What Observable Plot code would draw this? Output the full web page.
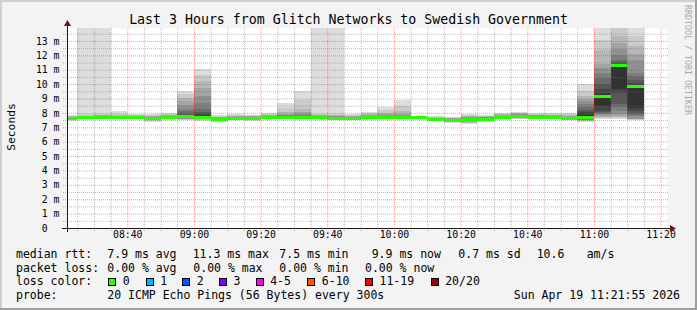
<!DOCTYPE html>
<html><head><meta charset="utf-8">
<script src="https://cdn.jsdelivr.net/npm/d3@7"></script>
<script src="https://cdn.jsdelivr.net/npm/@observablehq/plot@0.6"></script>
<style>
html,body{margin:0;padding:0;background:#f3f3f3;}
svg text{white-space:pre;}
</style></head><body><div id="chart"></div>
<script>
const title = "Last 3 Hours from Glitch Networks to Swedish Government";
const yAxisLabel = "Seconds";
const credit = "RRDTOOL / TOBI OETIKER";
const windowStart = "08:21:55", windowEnd = "11:21:55";

const binStarts = ["08:20","08:25","08:30","08:35","08:40","08:45","08:50","08:55","09:00","09:05","09:10","09:15","09:20","09:25","09:30","09:35","09:40","09:45","09:50","09:55","10:00","10:05","10:10","10:15","10:20","10:25","10:30","10:35","10:40","10:45","10:50","10:55","11:00","11:05","11:10"];
const medianRtt = [7.66,7.68,7.73,7.7,7.7,7.66,7.73,7.76,7.73,7.57,7.66,7.66,7.73,7.73,7.7,7.7,7.66,7.66,7.7,7.7,7.7,7.7,7.57,7.48,7.57,7.6,7.7,7.8,7.73,7.7,7.63,7.73,9.19,11.32,9.86];
const lossPerBin = [0,0,0,0,0,0,0,0,0,0,0,0,0,0,0,0,0,0,0,0,0,0,0,0,0,0,0,0,0,0,0,0,0,0,0];
// 20 sorted ping RTTs (ms) per bin
const pings = [
 [7.45,7.5,7.55,7.58,7.6,7.61,7.62,7.63,7.64,7.65,7.67,7.68,7.69,7.7,7.71,7.72,7.74,7.76,7.8,7.85],
 [7.5,7.55,7.58,7.6,7.61,7.62,7.63,7.64,7.65,7.66,7.67,7.68,7.69,7.7,7.71,7.72,7.74,7.78,7.9,25],
 [7.55,7.58,7.6,7.62,7.64,7.66,7.68,7.7,7.71,7.72,7.74,7.75,7.76,7.77,7.78,7.8,7.82,7.85,7.95,25],
 [7.55,7.58,7.6,7.62,7.64,7.66,7.67,7.68,7.69,7.7,7.71,7.72,7.73,7.74,7.76,7.78,7.8,7.85,7.95,8.1],
 [7.55,7.58,7.6,7.62,7.63,7.65,7.66,7.67,7.68,7.69,7.71,7.72,7.73,7.74,7.75,7.77,7.79,7.82,7.86,7.9],
 [7.38,7.45,7.5,7.55,7.58,7.6,7.62,7.63,7.64,7.65,7.67,7.68,7.69,7.7,7.72,7.74,7.76,7.8,7.85,7.9],
 [7.5,7.55,7.6,7.63,7.65,7.67,7.68,7.69,7.7,7.72,7.74,7.75,7.76,7.77,7.78,7.8,7.83,7.87,7.92,7.96],
 [7.5,7.52,7.55,7.58,7.6,7.62,7.65,7.68,7.7,7.72,7.78,7.85,7.95,8.1,8.3,8.55,8.8,9.05,9.3,9.53],
 [7.45,7.5,7.54,7.57,7.6,7.62,7.64,7.66,7.68,7.7,7.8,7.9,8.05,8.3,8.7,9.2,9.7,10.2,10.6,11.04],
 [7.34,7.4,7.44,7.47,7.5,7.52,7.53,7.54,7.55,7.56,7.58,7.6,7.61,7.62,7.64,7.66,7.7,7.74,7.8,7.85],
 [7.53,7.56,7.58,7.6,7.61,7.62,7.63,7.64,7.65,7.66,7.67,7.68,7.69,7.7,7.72,7.74,7.77,7.81,7.86,7.92],
 [7.45,7.5,7.54,7.57,7.59,7.61,7.62,7.63,7.64,7.65,7.67,7.68,7.69,7.7,7.71,7.73,7.75,7.78,7.82,7.85],
 [7.55,7.58,7.61,7.64,7.66,7.68,7.69,7.7,7.71,7.72,7.74,7.75,7.76,7.77,7.79,7.81,7.84,7.88,7.92,7.96],
 [7.55,7.58,7.61,7.64,7.66,7.68,7.69,7.7,7.71,7.72,7.74,7.75,7.77,7.79,7.82,7.86,7.92,8.05,8.35,8.7],
 [7.5,7.55,7.58,7.61,7.63,7.65,7.66,7.67,7.68,7.69,7.71,7.73,7.76,7.8,7.86,7.95,8.05,8.3,8.9,9.53],
 [7.5,7.55,7.58,7.6,7.62,7.64,7.65,7.66,7.68,7.69,7.71,7.72,7.73,7.75,7.77,7.79,7.82,7.87,7.95,25],
 [7.5,7.54,7.57,7.59,7.61,7.62,7.63,7.64,7.65,7.66,7.67,7.68,7.7,7.72,7.74,7.76,7.8,7.85,7.92,25],
 [7.5,7.54,7.57,7.59,7.61,7.62,7.63,7.64,7.65,7.66,7.67,7.68,7.69,7.7,7.72,7.74,7.77,7.8,7.85,7.9],
 [7.5,7.55,7.58,7.61,7.63,7.65,7.66,7.67,7.68,7.69,7.71,7.72,7.73,7.75,7.77,7.8,7.84,7.9,7.96,8.03],
 [7.5,7.55,7.58,7.61,7.63,7.65,7.66,7.67,7.68,7.69,7.71,7.72,7.74,7.76,7.79,7.83,7.9,8.0,8.2,8.43],
 [7.5,7.55,7.58,7.61,7.63,7.65,7.66,7.67,7.68,7.69,7.71,7.72,7.74,7.76,7.79,7.84,7.92,8.1,8.5,8.9],
 [7.5,7.55,7.58,7.61,7.63,7.65,7.66,7.67,7.68,7.69,7.7,7.71,7.72,7.73,7.74,7.75,7.76,7.77,7.79,7.8],
 [7.46,7.48,7.5,7.52,7.53,7.54,7.55,7.56,7.56,7.57,7.58,7.59,7.6,7.61,7.62,7.64,7.66,7.69,7.72,7.76],
 [7.3,7.35,7.38,7.41,7.43,7.45,7.46,7.47,7.47,7.48,7.5,7.52,7.54,7.57,7.59,7.61,7.63,7.65,7.68,7.72],
 [7.2,7.27,7.33,7.38,7.42,7.46,7.5,7.53,7.55,7.56,7.58,7.6,7.62,7.64,7.67,7.7,7.74,7.78,7.84,7.9],
 [7.4,7.45,7.48,7.51,7.53,7.55,7.56,7.57,7.58,7.59,7.61,7.62,7.63,7.65,7.67,7.69,7.72,7.76,7.8,7.85],
 [7.5,7.55,7.58,7.61,7.63,7.65,7.66,7.67,7.68,7.69,7.71,7.72,7.73,7.75,7.77,7.8,7.84,7.89,7.94,7.99],
 [7.57,7.6,7.63,7.66,7.69,7.72,7.74,7.76,7.78,7.79,7.81,7.82,7.84,7.86,7.88,7.9,7.93,7.96,8.0,8.03],
 [7.57,7.6,7.63,7.65,7.67,7.69,7.7,7.71,7.72,7.73,7.74,7.75,7.76,7.78,7.8,7.82,7.85,7.88,7.92,7.96],
 [7.57,7.6,7.62,7.64,7.66,7.67,7.68,7.69,7.7,7.7,7.71,7.72,7.73,7.75,7.77,7.79,7.82,7.86,7.91,7.96],
 [7.5,7.53,7.55,7.57,7.59,7.6,7.61,7.62,7.62,7.63,7.64,7.65,7.66,7.68,7.7,7.73,7.77,7.82,7.89,7.96],
 [7.4,7.43,7.45,7.48,7.5,7.52,7.55,7.58,7.6,7.65,7.85,8.05,8.2,8.4,8.6,8.8,9.0,9.2,9.5,9.98],
 [7.55,7.62,7.68,7.74,7.82,7.9,7.98,8.05,8.13,8.47,9.3,9.65,10.0,10.4,10.8,11.1,11.4,12.4,13.1,20],
 [7.6,7.66,7.7,7.8,7.9,8.13,8.4,8.6,9.4,9.65,11.25,11.37,11.55,11.7,12.05,12.41,12.87,13.33,14.5,20],
 [7.5,7.54,7.56,7.58,7.6,7.78,7.88,8.0,8.15,8.36,9.91,10.1,10.32,10.55,10.79,11.71,12.1,12.64,13.33,20]
];

const yTicks = [0,1,2,3,4,5,6,7,8,9,10,11,12,13];
const yTickLabels = ["0  ","1 m","2 m","3 m","4 m","5 m","6 m","7 m","8 m","9 m","10 m","11 m","12 m","13 m"];
const yMinorTicks = [0.5,1.5,2.5,3.5,4.5,5.5,6.5,7.5,8.5,9.5,10.5,11.5,12.5,13.5];
const xTicks = ["08:40","09:00","09:20","09:40","10:00","10:20","10:40","11:00","11:20"];
const xMinorTicks = ["08:25","08:30","08:35","08:45","08:50","08:55","09:05","09:10","09:15","09:25","09:30","09:35","09:45","09:50","09:55","10:05","10:10","10:15","10:25","10:30","10:35","10:45","10:50","10:55","11:05","11:10","11:15"];

const statsRtt = ["median rtt:","7.9 ms avg","11.3 ms max","7.5 ms min","9.9 ms now","0.7 ms sd","10.6","am/s"];
const statsLoss = ["packet loss:","0.00 % avg","0.00 % max","0.00 % min","0.00 % now"];
const lossTitle = "loss color:";
const lossLabels = ["0","1","2","3","4-5","6-10","11-19","20/20"];
const lossColors = ["#26ff00","#00b8ff","#0059ff","#7e00ff","#ff00ff","#ff5500","#ff0000","#a10000"];
const probeText = ["probe:","20 ICMP Echo Pings (56 Bytes) every 300s","Sun Apr 19 11:21:55 2026"];

// ---------- build ----------
const t = s => { const [h,m,sec] = s.split(":").map(Number); return new Date(2026,3,19,h,m,sec||0); };
const binMs = 5*60*1000;
const bins = binStarts.map((s,i)=>({start:t(s), end:new Date(+t(s)+binMs), median:medianRtt[i], loss:lossPerBin[i], p:pings[i]}));
const half = 10;
const greyOf = i => { const g = Math.floor(190/half*(half-(i+1)))+50; return `rgb(${g},${g},${g})`; };
const lossColorFor = n => n===0?lossColors[0]:n===1?lossColors[1]:n===2?lossColors[2]:n===3?lossColors[3]:n<=5?lossColors[4]:n<=10?lossColors[5]:n<=19?lossColors[6]:lossColors[7];

// smoke: band between consecutive sorted pings k,k+1 gets the colour of the innermost pair covering it
const bands = [];
bins.forEach(b => { for (let k=0;k<19;k++) bands.push({start:b.start, end:b.end, lo:b.p[k], hi:b.p[k+1], pair:Math.min(k,18-k)}); });
const smokeMarks = d3.range(half).map(i => Plot.rect(bands.filter(d=>d.pair===i), {
  x1:"start", x2:"end", y1:"lo", y2:"hi", fill:greyOf(i), clip:true, shapeRendering:"crispEdges"
}));

const W=697,H=310, mono="'DejaVu Sans Mono', monospace";
const gridMinor = "rgba(110,110,110,0.45)", gridMajor = "rgba(255,0,0,0.4)";
const chart = Plot.plot({
  width:W, height:H,
  marginLeft:67, marginRight:30, marginTop:28, marginBottom:82,
  style:{background:"#f3f3f3", fontFamily:mono, overflow:"visible"},
  x:{type:"time", domain:[t(windowStart), t(windowEnd)], axis:null},
  y:{domain:[0,13.9], axis:null},
  marks:[
    Plot.frame({fill:"white", stroke:null}),
    ...smokeMarks,
    Plot.ruleX(xMinorTicks.map(t), {stroke:gridMinor, strokeDasharray:"1,1", insetBottom:-3}),
    Plot.ruleX(xTicks.map(t), {stroke:gridMajor, strokeDasharray:"1,1", insetBottom:-3}),
    Plot.ruleY(yMinorTicks, {stroke:gridMinor, strokeDasharray:"1,1", insetLeft:-4, insetRight:-2}),
    Plot.ruleY(yTicks.filter(d=>d>0), {stroke:gridMajor, strokeDasharray:"1,1", insetLeft:-4, insetRight:-2}),
    Plot.ruleY(bins, {y:"median", x1:"start", x2:"end", stroke:d=>lossColorFor(d.loss), strokeWidth:3, clip:true, shapeRendering:"crispEdges"}),
    Plot.text(yTicks, {y:d=>d, text:(d,i)=>yTickLabels[i], frameAnchor:"left", dx:-8, textAnchor:"end", fontSize:9.8, fill:"#000", fontFamily:mono}),
    Plot.text(xTicks, {x:d=>t(d), text:d=>d, frameAnchor:"bottom", dy:9.5, fontSize:9.8, fill:"#000", fontFamily:mono})
  ]
});
document.getElementById("chart").appendChild(chart);

// ---------- decorations ----------
const svg = d3.select(chart);
const g = svg.append("g").attr("text-anchor","start");
// axes
g.append("line").attr("x1",62).attr("x2",671).attr("y1",228.5).attr("y2",228.5).attr("stroke","#1a1a1a");
g.append("line").attr("x1",67.5).attr("x2",67.5).attr("y1",232).attr("y2",24).attr("stroke","#1a1a1a");
g.append("polygon").attr("points","670,225 676,228.5 670,232").attr("fill","#7a1010");
g.append("polygon").attr("points","64,26 67.5,20 71,26").attr("fill","#7a1010");
// border
g.append("rect").attr("x",0).attr("y",0).attr("width",W).attr("height",2).attr("fill","#cfcfcf");
g.append("rect").attr("x",0).attr("y",0).attr("width",2).attr("height",H).attr("fill","#cfcfcf");
g.append("rect").attr("x",0).attr("y",H-2).attr("width",W).attr("height",2).attr("fill","#9e9e9e");
g.append("rect").attr("x",W-2).attr("y",0).attr("width",2).attr("height",H).attr("fill","#9e9e9e");
// title
g.append("text").attr("x",348.5).attr("y",24).attr("text-anchor","middle").attr("font-family",mono).attr("font-size",13.25).attr("fill","#000").text(title);
// y label
g.append("text").attr("transform","translate(15,127) rotate(-90)").attr("text-anchor","middle").attr("font-family",mono).attr("font-size",11.3).attr("fill","#000").text(yAxisLabel);
// credit
g.append("text").attr("transform","translate(685,5) rotate(90)").attr("text-anchor","start").attr("font-family",mono).attr("font-size",8.3).attr("fill","#a8a8a8").text(credit);
// legend
const lf = 11.5;
const txt = (x,y,s,anchor) => g.append("text").attr("x",x).attr("y",y).attr("font-family",mono).attr("font-size",lf).attr("fill","#000").attr("text-anchor",anchor||"start").text(s);
const rttX = [16,107.3,192.7,279.3,371.7,458.3,536.7,586.7];
statsRtt.forEach((s,i)=>txt(rttX[i],258,s));
const lossX = [16,107.3,193.3,279.3,365];
statsLoss.forEach((s,i)=>txt(lossX[i],271.5,s));
txt(16,285.3,lossTitle);
const swX = [108.3,145.7,182.3,219,255.7,307.3,365,430.7];
lossLabels.forEach((s,i)=>{
  g.append("rect").attr("x",Math.round(swX[i])+0.5).attr("y",278.5).attr("width",7).attr("height",7).attr("fill",lossColors[i]).attr("stroke","#000");
  txt(swX[i]+14.5,285.3,s);
});
txt(16,299,probeText[0]);
txt(107.3,299,probeText[1]);
txt(680,299,probeText[2],"end");
</script></body></html>
